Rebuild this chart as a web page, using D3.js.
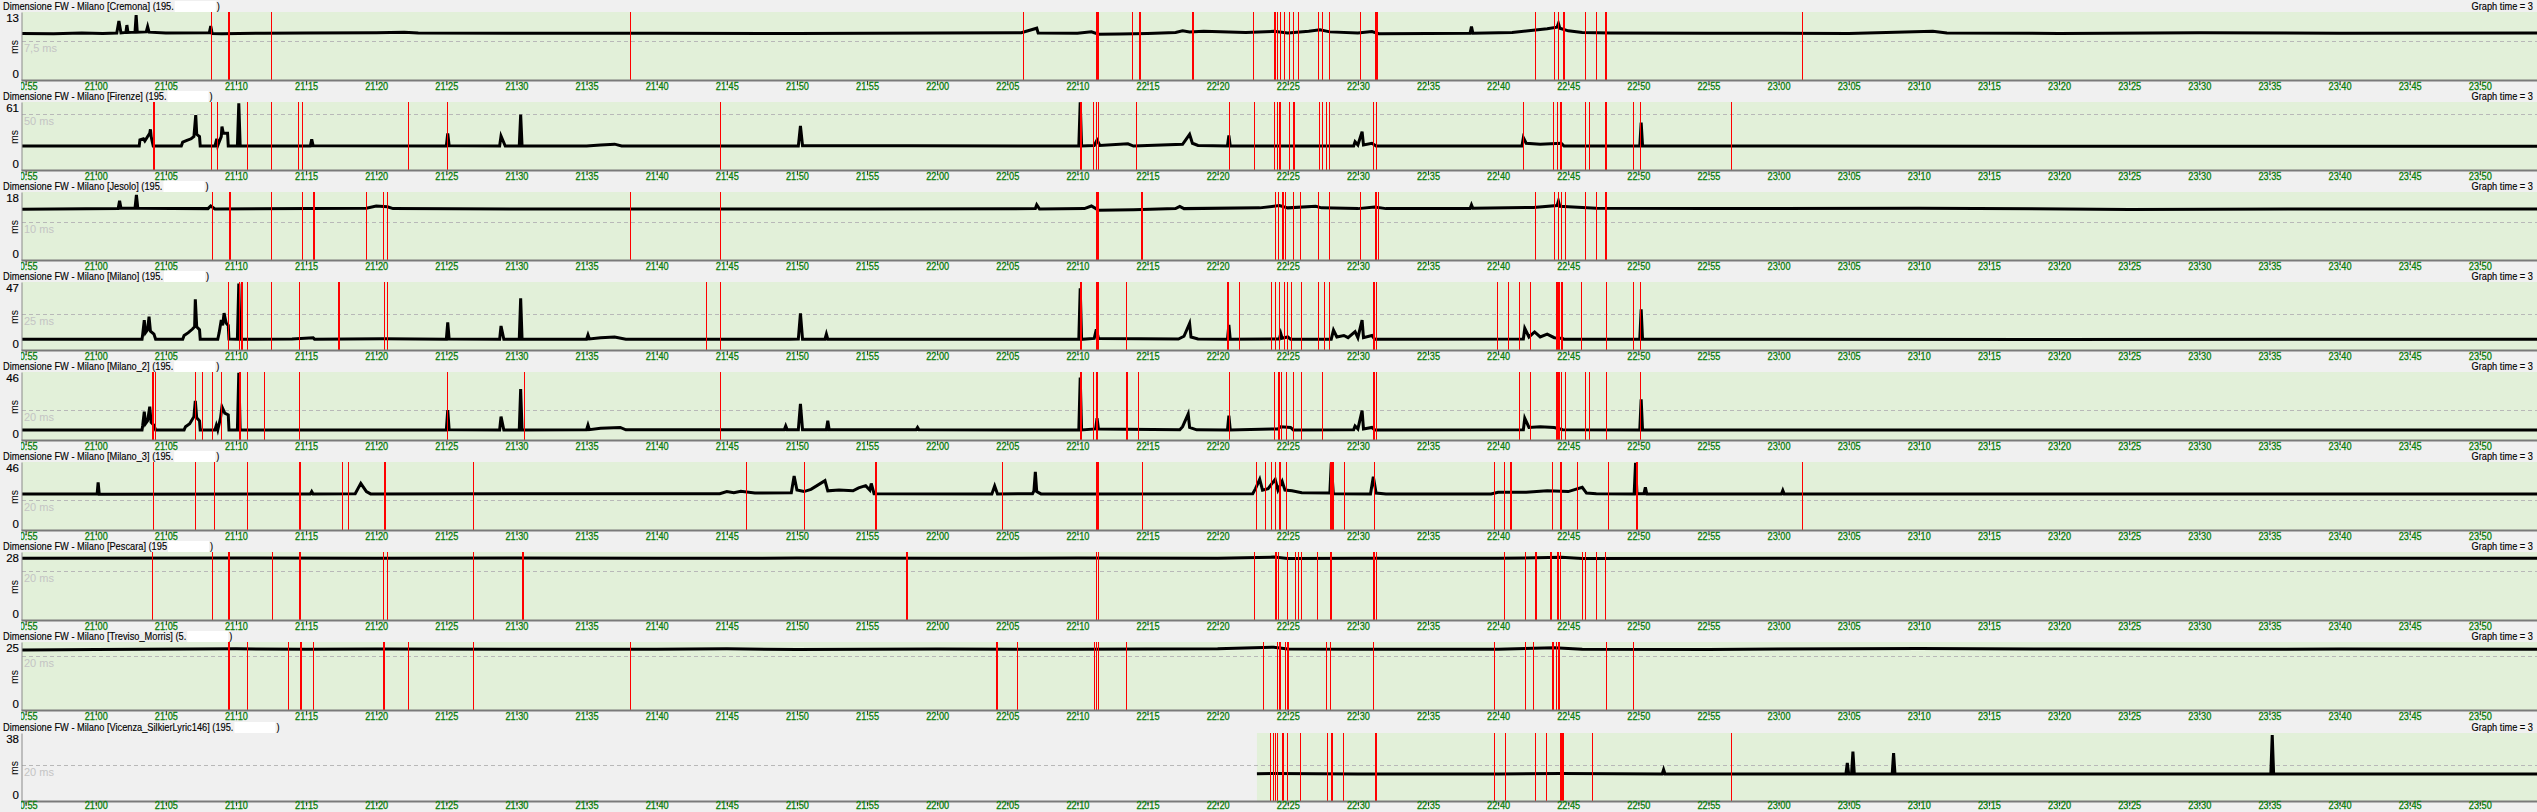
<!DOCTYPE html>
<html><head><meta charset="utf-8">
<script src="https://cdn.jsdelivr.net/npm/d3@7"></script>
<style>
html,body{margin:0;padding:0;background:#f0f0f0;overflow:hidden}
svg{display:block}
text{font-family:"Liberation Sans",Arial,sans-serif}
</style></head><body>
<svg id="c" width="2537" height="812"></svg>
<script>
// ---------------- DATA (times = minutes after 21:00) ----------------
const panelNames = ["Cremona","Firenze","Jesolo","Milano","Milano_2","Milano_3","Pescara","Treviso_Morris","Vicenza_SilkierLyric146"];
const titleAddr  = ["(195.","(195.","(195.","(195.","(195.","(195.","(195","(5.","(195."];
const yMax       = [13,61,18,47,46,46,28,25,38];
const refValues  = [7.5,50,10,25,20,20,20,20,20];
const refLabels  = ["7,5 ms","50 ms","10 ms","25 ms","20 ms","20 ms","20 ms","20 ms","20 ms"];
const dataStart  = [null,null,null,null,null,null,null,null,82.8];
const viewStart = -5.33, viewEnd = 174.08;
const rightLabel = "Graph time = 3";

// latency series [minute, ms]
const cremonaLine = [[-5.33,8.9],[-3,8.85],[-1,9.0],[0.5,8.9],[1.5,9.0],[1.65,11.3],[1.8,9.0],[2.15,9.1],[2.22,10.5],[2.3,9.1],[2.8,9.15],[2.88,12.4],[2.96,9.15],[3.6,9.2],[3.7,10.2],[3.8,9.15],[5,9.0],[8.1,9.05],[8.2,10.3],[8.3,8.9],[9,8.85],[12,8.95],[15,9.0],[20,9.05],[22,9.15],[23,9.0],[30,8.95],[40,8.95],[50,8.9],[60,9.0],[66,9.05],[67.1,9.9],[67.2,9.0],[70,8.95],[71,9.2],[71.5,8.75],[73,8.8],[75,8.9],[77,9.1],[77.5,9.4],[78,9.2],[79,9.3],[82,9.1],[84,9.3],[85,9.0],[86.5,9.3],[87.3,9.6],[88,9.2],[90,9.0],[91,9.25],[91.5,8.85],[95,8.9],[98,8.95],[98.1,10.2],[98.2,8.95],[101,9.1],[102.5,9.5],[103.5,9.8],[104.2,10.1],[104.3,10.8],[104.4,9.9],[105,9.4],[106,9.1],[108,9.0],[115,8.95],[125,8.9],[131,9.3],[132,9.0],[140,8.9],[150,9.05],[160,8.95],[174.1,9.0]];
const firenzeLine = [[-5.33,21.5],[3.1,21.5],[3.15,27],[3.4,28],[3.5,26],[3.7,30],[3.85,33],[3.9,36.5],[3.95,30],[4.1,21.5],[6.1,21.5],[6.2,25],[6.5,26.5],[6.8,28],[7.0,30],[7.13,49.3],[7.2,32],[7.4,30],[7.45,21.5],[8.5,21.5],[8.63,28],[8.7,22],[8.95,30],[9.0,38.9],[9.1,33],[9.4,33],[9.45,21.5],[10.1,21.5],[10.2,59.8],[10.3,21.5],[15.3,21.5],[15.4,27.5],[15.5,21.8],[25.0,21.5],[25.1,32.9],[25.2,21.8],[28.8,21.5],[28.9,30.5],[29.2,21.5],[30.2,21.5],[30.3,49.8],[30.4,21.5],[35,21.6],[36,22.5],[37,23.2],[37.5,21.6],[50.1,21.5],[50.25,39.5],[50.4,21.8],[58,21.7],[70.1,21.5],[70.2,60.7],[70.3,21.5],[71.2,22],[71.4,26.9],[71.6,22],[73.6,23.5],[74,21.5],[77.5,23],[78,32],[78.2,24],[78.6,22],[80.7,21.5],[80.8,31],[80.9,21.5],[89.7,21.5],[89.8,25.4],[90.0,22.5],[90.3,34.4],[90.4,22.5],[91,24],[91.3,21.5],[101.7,21.5],[101.8,29],[102,24],[103,23],[104.5,24],[104.7,21.5],[110.1,21.5],[110.2,42.5],[110.3,21.8],[140,21.2],[174.1,21.3]];
const jesoloLine = [[-5.33,13.4],[1.6,13.6],[1.7,15.7],[1.8,13.7],[2.8,13.7],[2.9,17.2],[3.0,13.7],[8,13.6],[8.2,14.3],[8.5,13.5],[19.3,13.7],[20,14.3],[20.8,14.1],[21.2,13.6],[30,13.5],[40,13.5],[55,13.5],[67,13.6],[67.1,14.6],[67.3,13.5],[70.5,13.6],[71,14.3],[71.5,13.2],[74,13.3],[77,13.6],[77.3,14.2],[77.6,13.6],[83,13.8],[84.4,14.4],[85,13.8],[87,14.2],[87.4,13.8],[90,13.6],[91.2,14.0],[92,13.6],[98,13.6],[98.1,14.6],[98.2,13.7],[102.5,13.9],[104.2,14.4],[104.3,15.6],[104.4,14.2],[106,13.9],[107,13.7],[115,13.6],[130,13.7],[145,13.4],[160,13.5],[174.1,13.5]];
const milanoLine = [[-5.33,7.4],[3.3,7.4],[3.35,11],[3.46,20.7],[3.55,12],[3.7,14],[3.8,23],[3.9,13],[4.15,11],[4.27,7.4],[6.2,7.4],[6.3,10],[6.6,12],[6.9,14.5],[7.05,16.1],[7.1,35],[7.2,16],[7.4,14],[7.45,7.4],[8.7,7.4],[8.8,12],[8.95,20.7],[9.05,17],[9.15,25.5],[9.3,18.6],[9.45,17],[9.5,7.6],[10.1,7.4],[10.2,46],[10.3,7.4],[14,7.6],[15.5,8.5],[15.6,7.5],[20.5,7.7],[25.0,7.4],[25.1,19.1],[25.2,7.6],[28.8,7.4],[28.9,16.6],[29.1,7.4],[30.2,7.4],[30.3,35.7],[30.4,7.4],[35,7.5],[35.1,10.4],[35.2,7.6],[36,8.4],[37,9],[37.8,7.5],[49.5,7.5],[50.1,7.6],[50.25,25.3],[50.4,7.5],[52,7.5],[52.1,11],[52.2,7.5],[70.1,7.4],[70.2,42.6],[70.3,7.4],[71.2,8],[71.35,14.3],[71.5,8],[77.2,7.6],[77.6,9.5],[78,18.4],[78.1,9],[78.6,7.6],[80.7,7.4],[80.8,17.3],[80.9,7.4],[84.4,7.6],[84.5,11.5],[84.6,8.2],[85,9],[85.2,7.5],[88.1,7.5],[88.26,13.8],[88.5,9],[89,10],[89.3,8.5],[89.8,12.7],[90,8.5],[90.3,20.7],[90.4,8.5],[91,10],[91.2,7.5],[101.8,7.6],[101.9,15],[102.2,9],[102.6,12.5],[103,9],[103.5,11],[104,8.5],[104.6,8],[104.7,7.4],[110.1,7.4],[110.2,28.1],[110.3,7.4],[140,7.3],[174.1,7.4]];
const milano2Line = [[-5.33,6.8],[3.3,6.8],[3.35,10],[3.46,19.2],[3.55,11],[3.7,13],[3.85,22.5],[3.95,12],[4.15,10],[4.27,6.8],[6.3,6.8],[6.4,9],[6.7,11],[7.0,15.8],[7.1,26.4],[7.2,15],[7.4,13],[7.45,6.8],[8.5,6.8],[8.6,10],[8.7,6.8],[8.9,15],[9.0,22.5],[9.2,18.2],[9.45,17],[9.5,6.8],[10.1,6.8],[10.2,45.5],[10.3,6.8],[25.0,6.8],[25.1,20.3],[25.2,7],[28.8,6.8],[28.9,15.8],[29.1,6.8],[30.2,6.8],[30.3,34.5],[30.4,6.8],[35,7.0],[35.1,10.1],[35.2,7.0],[36,8],[37.4,8.5],[37.8,6.9],[49.1,6.9],[49.2,9.5],[49.3,7],[50.1,7],[50.25,24.4],[50.4,7],[52.1,6.9],[52.2,13.1],[52.3,6.9],[58.5,6.9],[58.6,8.5],[58.7,6.9],[70.1,6.8],[70.2,42.2],[70.3,6.8],[71.3,7.5],[71.4,14.7],[71.5,7.5],[77.3,6.9],[77.5,9],[77.9,17.6],[78.0,8.5],[78.5,6.9],[80.7,6.8],[80.8,16.5],[80.9,6.8],[84.3,7.5],[84.5,9],[85.2,8.5],[85.4,6.8],[89.7,7],[89.8,9.5],[90,7.5],[90.3,19.9],[90.4,7.5],[91,8.5],[91.2,6.8],[101.8,7],[101.9,14.7],[102.2,8.5],[103,9],[104,8.5],[104.6,6.9],[110.1,6.8],[110.2,27.5],[110.3,6.8],[140,6.8],[174.1,6.8]];
const milano3Line = [[-5.33,24.4],[0.1,24.4],[0.17,32.2],[0.25,24.2],[15.3,24.4],[15.4,26],[15.5,24.4],[18.5,24.6],[18.9,31.6],[19.3,26],[19.6,24.4],[44.5,24.6],[45,26],[45.5,25.2],[46,26.2],[47,25],[49.6,25.2],[49.8,36.5],[50,27],[50.5,26],[51,27.5],[52,33.4],[52.2,26.5],[53,27],[54,26.5],[54.4,28.5],[54.9,30],[55.2,27],[55.3,31.5],[55.5,24.6],[63.9,24.4],[64.1,29.8],[64.3,24.4],[66.8,24.6],[66.9,26.5],[67.0,39.4],[67.1,26],[67.4,24.4],[70,24.4],[82.5,24.6],[82.7,28],[83,34.3],[83.2,27],[83.6,28],[84.1,34.3],[84.3,27],[84.6,33],[84.8,27],[85.3,26.5],[86,25.2],[88,25],[88.1,45.1],[88.25,24.5],[90.9,24.4],[91.1,36.1],[91.3,25],[92,24.4],[99.5,24.4],[100,25.5],[102,25.5],[103.5,26.5],[105,26],[106,28.9],[106.3,25],[107,24.5],[109.7,24.4],[109.8,45.5],[109.9,24.6],[110.4,24.6],[110.5,28.8],[110.6,24.4],[120.2,24.4],[120.3,26.8],[120.4,24.4],[140,24.4],[174.1,24.4]];
const pescaraLine = [[-5.33,25.4],[10,25.5],[20,25.4],[30,25.5],[40,25.4],[50,25.5],[60,25.4],[70,25.5],[80,25.4],[84,25.9],[85,25.3],[90,25.4],[100,25.4],[104.5,25.8],[106,25.3],[120,25.4],[174.1,25.4]];
const trevisoLine = [[-5.33,22.1],[0,22.2],[10,22.5],[15,22.3],[20,22.4],[30,22.3],[40,22.3],[45,22.5],[50,22.2],[55,22.3],[60,22.4],[70,22.3],[80,22.5],[84,23.1],[85,22.4],[90,22.3],[100,22.3],[104,22.9],[106,22.3],[115,22.2],[120,22.4],[125,22.5],[130,22.6],[140,22.4],[150,22.3],[160,22.4],[174.1,22.3]];
const vicenzaLine = [[82.8,15.2],[84,15.4],[90,15.1],[100,15.1],[104.5,15.3],[111.7,15.1],[111.8,17.5],[111.9,15.1],[124.8,15.1],[124.9,21.2],[125.0,15.1],[125.2,15.1],[125.3,27.6],[125.4,15.1],[128.1,15.1],[128.2,26.7],[128.3,15.1],[155.1,15.1],[155.2,36.9],[155.3,15.1],[174.1,15.1]];

// packet-loss events [minute, seconds lost]
const cremonaLoss = [[8.22,4],[9.45,9],[12.5,4],[38.1,4],[66.1,4],[71.3,9],[71.5,4],[73.9,4],[74.4,9],[78.2,9],[82.5,4],[84.0,9],[84.2,4],[84.45,4],[84.7,4],[85.1,4],[85.4,4],[85.75,4],[87.16,4],[87.45,4],[87.97,4],[90.16,4],[91.2,13],[102.6,4],[104.0,4],[104.3,4],[104.6,9],[106.2,4],[107.0,4],[107.6,9],[121.7,4]];
const firenzeLoss = [[4.07,9],[8.25,4],[8.68,4],[10.8,4],[12.5,4],[14.45,4],[14.7,4],[22.3,4],[25.07,4],[44.5,4],[70.2,9],[71.1,4],[71.3,4],[71.45,4],[74.2,4],[80.8,4],[82.6,4],[84.0,4],[84.2,4],[84.4,9],[85.1,4],[85.4,9],[87.2,4],[87.45,4],[87.7,4],[87.97,4],[91.1,4],[91.26,4],[101.8,4],[103.9,4],[104.2,4],[104.4,9],[106.2,4],[106.5,4],[107.6,9],[109.6,4],[110.1,4],[116.6,4]];
const jesoloLoss = [[8.3,4],[9.5,9],[12.5,4],[14.7,4],[15.5,9],[19.3,4],[20.5,4],[20.8,4],[38.1,4],[44.5,4],[71.3,9],[71.5,4],[74.5,9],[84.1,4],[84.3,4],[84.56,9],[84.8,4],[85.4,4],[85.9,4],[87.16,4],[87.97,4],[90.16,4],[91.2,9],[91.4,4],[102.6,4],[104.0,4],[104.25,4],[104.5,4],[104.8,4],[106.2,4],[107.0,4],[107.6,9]];
const milanoLoss = [[9.46,4],[10.2,4],[10.34,9],[10.8,4],[12.5,4],[14.5,4],[17.3,9],[20.55,4],[20.8,4],[43.55,4],[44.5,4],[70.2,9],[71.3,9],[71.45,4],[73.5,4],[80.7,9],[81.5,4],[83.8,4],[84.1,4],[84.4,4],[84.7,4],[84.96,4],[85.25,4],[85.95,4],[87.16,4],[87.56,4],[87.97,4],[91.1,9],[91.26,4],[99.9,4],[100.7,4],[101.5,4],[102.3,4],[104.1,17],[104.5,9],[105.9,4],[107.7,4],[109.6,4],[110.1,4]];
const milano2Loss = [[4.03,9],[4.2,4],[7.1,4],[7.6,4],[8.3,4],[8.95,4],[10.2,9],[10.8,4],[12.0,4],[14.5,4],[25.07,4],[30.55,4],[44.5,4],[70.2,9],[71.1,4],[71.3,9],[73.5,9],[74.3,4],[80.8,4],[84.0,4],[84.3,9],[84.5,4],[84.9,4],[85.4,4],[85.95,4],[87.45,4],[91.1,9],[91.3,4],[101.5,4],[102.3,4],[104.1,17],[104.5,4],[104.8,4],[106.2,4],[106.5,4],[107.7,4],[110.1,4]];
const milano3Loss = [[4.1,4],[7.1,4],[8.4,4],[10.75,4],[14.5,9],[17.55,4],[18.0,4],[20.55,9],[26.9,4],[46.4,4],[50.5,4],[55.6,9],[64.6,4],[71.3,9],[71.45,4],[74.6,4],[82.7,4],[83.4,4],[83.8,4],[84.1,4],[84.4,9],[84.9,4],[88.0,17],[89.0,4],[91.15,4],[99.7,4],[100.4,4],[100.85,9],[103.85,4],[104.4,9],[105.6,4],[107.8,4],[109.8,9],[121.7,4]];
const pescaraLoss = [[4.03,4],[8.3,4],[9.46,9],[12.6,4],[14.5,9],[14.6,4],[20.5,4],[20.8,4],[26.9,4],[30.4,9],[57.8,9],[71.3,4],[71.5,4],[82.6,4],[84.1,9],[84.3,4],[84.96,4],[85.5,4],[85.7,4],[85.95,4],[87.1,4],[88.0,9],[91.1,9],[91.3,4],[100.4,4],[101.9,4],[102.6,9],[103.7,9],[104.2,9],[104.4,4],[106.0,4],[106.2,4],[107.0,4],[107.6,4]];
const trevisoLoss = [[9.4,9],[10.75,4],[13.7,4],[14.55,9],[15.5,4],[20.5,9],[22.3,4],[26.9,4],[38.1,4],[64.2,9],[65.7,4],[71.2,4],[71.3,4],[71.5,4],[73.5,4],[83.2,4],[84.2,4],[84.4,9],[84.8,4],[84.96,9],[87.7,4],[88.0,4],[91.1,4],[99.7,4],[101.9,4],[102.5,4],[103.85,9],[104.1,4],[104.3,9],[107.7,4],[109.6,4]];
const vicenzaLoss = [[83.76,4],[83.97,4],[84.1,4],[84.26,4],[84.6,9],[84.97,4],[85.9,4],[87.8,4],[88.1,9],[88.96,4],[91.2,9],[99.7,4],[100.5,4],[102.6,4],[103.4,4],[104.4,17],[106.7,4],[116.6,4]];

const lineSeries = [cremonaLine,firenzeLine,jesoloLine,milanoLine,milano2Line,milano3Line,pescaraLine,trevisoLine,vicenzaLine];
const lossSeries = [cremonaLoss,firenzeLoss,jesoloLoss,milanoLoss,milano2Loss,milano3Loss,pescaraLoss,trevisoLoss,vicenzaLoss];

// ---------------- LAYOUT ----------------
const W = 2537, H = 812;
const panelTops = [0,90,180,270,360,450,540,630,721];
const plotLeft = 21, plotTop = 12, plotBottom = 80;

const svg = d3.select("#c");
svg.append("rect").attr("width",W).attr("height",H).attr("fill","#f0f0f0");

const base = new Date(2024,0,1,21,0,0);
const toDate = m => new Date(base.getTime() + m*60000);
const x = d3.scaleTime().domain([toDate(viewStart), toDate(viewEnd)]).range([plotLeft, W]);

function measure(txt, size){
  const t = svg.append("text").style("font-size", size+"px").text(txt);
  const w = t.node().getComputedTextLength(); t.remove(); return w;
}
const TITLE_PX = 11;
const titleScale = 171 / measure("Dimensione FW - Milano [Cremona] (195.", TITLE_PX);

const defs = svg.append("defs");
defs.append("clipPath").attr("id","plotClip").append("rect")
  .attr("x",plotLeft+1).attr("y",plotTop).attr("width",W-plotLeft-1).attr("height",plotBottom-plotTop);
defs.append("clipPath").attr("id","tickClip").append("rect")
  .attr("x",plotLeft).attr("y",-2).attr("width",W-plotLeft).attr("height",20);

// horizontally condensed text (Tahoma-like proportions), via transform
function condensed(parent, x0, y0, txt, anchor){
  const t = parent.append("text")
    .attr("transform",`translate(${x0},${y0}) scale(${titleScale},1)`)
    .attr("text-anchor",anchor||"start")
    .style("font-size",TITLE_PX+"px").attr("fill","#000")
    .attr("stroke","#000").attr("stroke-width",0.15).text(txt);
  return t.node().getComputedTextLength()*titleScale;
}

panelNames.forEach((name,i)=>{
  const g = svg.append("g").attr("transform",`translate(0,${panelTops[i]})`);
  const y = d3.scaleLinear().domain([0,yMax[i]]).range([plotBottom, plotTop]);
  const gx0 = dataStart[i]==null ? plotLeft+1 : x(toDate(dataStart[i]));
  const last = i === panelNames.length-1;

  // title
  const tw = condensed(g, 3, 10.3, `Dimensione FW - Milano [${name}] ${titleAddr[i]}`);
  g.append("rect").attr("x",3+tw+1).attr("y",1).attr("width",41).attr("height",11).attr("fill","#fff");
  condensed(g, 3+tw+43, 10.3, ")");
  condensed(g, W-4, 10.3, rightLabel, "end");

  // background
  g.append("rect").attr("x",gx0).attr("y",plotTop).attr("width",W-gx0).attr("height",plotBottom-plotTop)
    .attr("fill","#e2f0d9");

  // reference line
  const ry = Math.round(y(refValues[i]))+0.5;
  g.append("line").attr("x1",plotLeft+1).attr("x2",W).attr("y1",ry).attr("y2",ry)
    .attr("stroke","#b8b8b8").attr("stroke-width",1).attr("stroke-dasharray","4,3");
  g.append("text").attr("x",24).attr("y",ry+10.5).style("font-size","11px").attr("fill","#c4c4c4").text(refLabels[i]);

  // latency line
  const line = d3.line().x(d=>x(toDate(d[0]))).y(d=>y(d[1]));
  g.append("path").datum(lineSeries[i]).attr("clip-path","url(#plotClip)")
    .attr("d",line).attr("fill","none").attr("stroke","#000").attr("stroke-width",3)
    .attr("stroke-linejoin","miter");

  // packet loss
  g.append("g").attr("clip-path","url(#plotClip)").selectAll("rect").data(lossSeries[i]).join("rect")
    .attr("x",d=>Math.round(x(toDate(d[0]))))
    .attr("width",d=>Math.max(1,Math.round(x(toDate(d[0]+d[1]/60))-x(toDate(d[0])))))
    .attr("y",plotTop).attr("height",plotBottom-plotTop).attr("fill","#ff0000");

  // y axis
  const ya = g.append("g").attr("transform",`translate(${plotLeft+0.5},0)`)
    .call(d3.axisLeft(y).tickValues([0,yMax[i]]).tickSize(0).tickPadding(2.5));
  ya.select(".domain").attr("stroke","#8a8a8a");
  ya.selectAll("text").style("font-size","11.5px").attr("fill","#000").attr("font-family",null)
    .attr("stroke","#000").attr("stroke-width",0.15)
    .attr("dy",d=>d===0?"-0.25em":"0.8em");
  g.append("text").attr("transform",`translate(18,${(plotTop+plotBottom)/2+1}) rotate(-90)`)
    .attr("text-anchor","middle").style("font-size","10.5px").attr("fill","#000").text("ms");

  // x axis
  const xa = g.append("g").attr("transform",`translate(0,${plotBottom})`).attr("clip-path","url(#tickClip)")
    .call(d3.axisBottom(x).ticks(d3.timeMinute.every(5)).tickFormat(d3.timeFormat("%H:%M")).tickSize(5).tickSizeOuter(0));
  xa.select(".domain").attr("stroke","#7a7a7a").attr("stroke-width",2);
  xa.selectAll(".tick line").attr("stroke","#333").attr("y1",1);
  xa.selectAll(".tick text").attr("y",last?8.0:9.8).attr("dy",0).style("font-size",last?"10.5px":"11px")
    .attr("textLength",23).attr("lengthAdjust","spacingAndGlyphs")
    .attr("fill","#0a7d0a").attr("stroke","#0a7d0a").attr("stroke-width",0.3).attr("font-family",null);
});
</script>
</body></html>
